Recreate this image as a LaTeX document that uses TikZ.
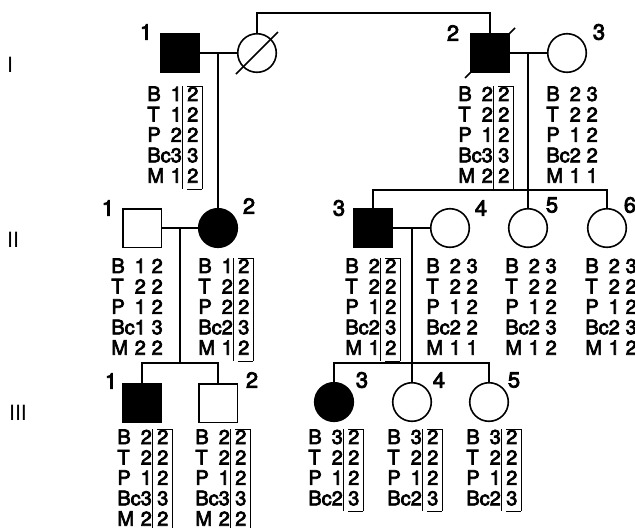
\documentclass[tikz,border=0pt]{standalone}
\usepackage{fontspec}
\setmainfont{TeX Gyre Heros}[FakeBold=3.5]
\newfontfamily\thinfont{TeX Gyre Heros}
\usetikzlibrary{positioning}

% haplotype columns, the inherited one boxed
\newcommand{\hapbox}[1]{{\setlength{\tabcolsep}{0pt}%
  \begin{tabular}{lr@{\hspace{0.5pt}}|@{\hspace{2pt}}c@{\hspace{2pt}}|}\cline{3-3}
  #1\\\cline{3-3}\end{tabular}}}
\newcommand{\happlain}[1]{{\setlength{\tabcolsep}{0pt}%
  \begin{tabular}{lr@{\hspace{2.9pt}}c}#1\end{tabular}}}

\begin{document}
\begin{tikzpicture}[x=0.5pt, y=-0.5pt,
  male/.style={draw, line width=0.8pt, minimum size=19.3pt, inner sep=0pt},
  female/.style={draw, circle, line width=0.8pt, minimum size=19.3pt, inner sep=0pt},
  line/.style={line width=0.8pt},
  num/.style={font=\fontsize{11}{13}\selectfont, inner sep=0pt},
  gen/.style={font=\thinfont\fontsize{10.5}{12}\selectfont, inner sep=0pt},
  geno/.style={anchor=north west, inner sep=0pt, font=\fontsize{10}{9.75}\selectfont}
]
  \useasboundingbox (0,0) rectangle (635,527);

  % generation numbers
  \node[gen] (g1) at (10,65)  {I};
  \node[gen] (g2) at (13,240) {II};
  \node[gen] (g3) at (18,413) {III};

  % generation I
  \node[male, fill=black] (i1)   at (180,53) {};
  \node[female]           (idec) at (257,53) {};
  \node[male, fill=black] (i2)   at (490,53) {};
  \node[female]           (i3)   at (567,53) {};
  \node[num] (n11) at (146,32) {1};
  \node[num] (n12) at (453,33) {2};
  \node[num] (n13) at (599,32) {3};

  % generation II
  \node[male]               (ii1) at (142,228) {};
  \node[female, fill=black] (ii2) at (218,228) {};
  \node[male, fill=black]   (ii3) at (373,228) {};
  \node[female]             (ii4) at (450,228) {};
  \node[female]             (ii5) at (528,228) {};
  \node[female]             (ii6) at (607,228) {};
  \node[num] (n21) at (108,208) {1};
  \node[num] (n22) at (249,206) {2};
  \node[num] (n23) at (339,208) {3};
  \node[num] (n24) at (481,208) {4};
  \node[num] (n25) at (552,205) {5};
  \node[num] (n26) at (630,205) {6};

  % generation III
  \node[male, fill=black]   (iii1) at (142,403) {};
  \node[male]               (iii2) at (218,403) {};
  \node[female, fill=black] (iii3) at (334,402) {};
  \node[female]             (iii4) at (412,402) {};
  \node[female]             (iii5) at (489,402) {};
  \node[num] (n31) at (111,381) {1};
  \node[num] (n32) at (252,380) {2};
  \node[num] (n33) at (362,380) {3};
  \node[num] (n34) at (439,380) {4};
  \node[num] (n35) at (514,380) {5};

  % deceased
  \draw[line] ([shift={(-21,21)}]idec.center) -- ([shift={(21,-21)}]idec.center);
  \draw[line] ([shift={(-25,25)}]i2.center) -- ([shift={(25,-25)}]i2.center);

  % matings and descent
  \coordinate (m1) at (218,53);
  \coordinate (m2) at (528,53);
  \coordinate (m3) at (180,228);
  \coordinate (m4) at (412,228);
  \coordinate (s2) at (528,190);
  \coordinate (s3) at (180,363);
  \coordinate (s4) at (412,363);

  \draw[line] (i1) -- (idec);
  \draw[line] (i2) -- (i3);
  \draw[line] (idec.north) -- ++(0,-20) -| (i2.north);
  \draw[line] (m1) -- (ii2.north);
  \draw[line] (m2) -- (ii5.north);
  \draw[line] (ii3.north) |- (s2) -| (ii6.north);

  \draw[line] (ii1) -- (ii2);
  \draw[line] (ii3) -- (ii4);
  \draw[line] (m3) -- (s3);
  \draw[line] (iii1.north) |- (s3) -| (iii2.north);
  \draw[line] (m4) -- (iii4.north);
  \draw[line] (iii3.north) |- (s4) -| (iii5.north);

  % haplotypes
  \node[geno] (h11) at (147,86) {\hapbox{B&1&2\\T&1&2\\P&2&2\\Bc&3&3\\M&1&2}};
  \node[geno] (h12) at (458,86) {\hapbox{B&2&2\\T&2&2\\P&1&2\\Bc&3&3\\M&2&2}};
  \node[geno] (h13) at (546,86) {\happlain{B&2&3\\T&2&2\\P&1&2\\Bc&2&2\\M&1&1}};

  \node[geno] (h21) at (111,258) {\happlain{B&1&2\\T&2&2\\P&1&2\\Bc&1&3\\M&2&2}};
  \node[geno] (h22) at (198,258) {\hapbox{B&1&2\\T&2&2\\P&2&2\\Bc&2&3\\M&1&2}};
  \node[geno] (h23) at (345,258) {\hapbox{B&2&2\\T&2&2\\P&1&2\\Bc&2&3\\M&1&2}};
  \node[geno] (h24) at (426,258) {\happlain{B&2&3\\T&2&2\\P&1&2\\Bc&2&2\\M&1&1}};
  \node[geno] (h25) at (505,258) {\happlain{B&2&3\\T&2&2\\P&1&2\\Bc&2&3\\M&1&2}};
  \node[geno] (h26) at (585,258) {\happlain{B&2&3\\T&2&2\\P&1&2\\Bc&2&3\\M&1&2}};

  \node[geno] (h31) at (117,429) {\hapbox{B&2&2\\T&2&2\\P&1&2\\Bc&3&3\\M&2&2}};
  \node[geno] (h32) at (195,429) {\hapbox{B&2&2\\T&2&2\\P&1&2\\Bc&3&3\\M&2&2}};
  \node[geno] (h33) at (308,429) {\hapbox{B&3&2\\T&2&2\\P&1&2\\Bc&2&3}};
  \node[geno] (h34) at (387,429) {\hapbox{B&3&2\\T&2&2\\P&1&2\\Bc&2&3}};
  \node[geno] (h35) at (466,429) {\hapbox{B&3&2\\T&2&2\\P&1&2\\Bc&2&3}};
\end{tikzpicture}
\end{document}
